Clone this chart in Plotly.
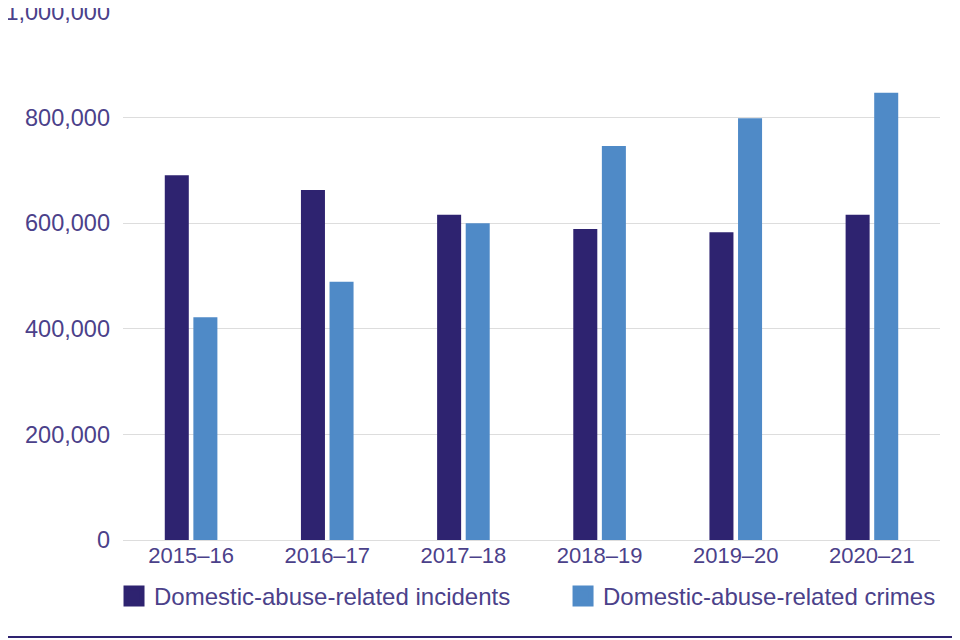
import plotly.graph_objects as go

years = ["2015–16", "2016–17", "2017–18", "2018–19", "2019–20", "2020–21"]
incidents = [691000, 663000, 616000, 589000, 583000, 616000]
crimes = [422000, 489000, 600000, 746000, 799000, 847000]
series_names = ["Domestic-abuse-related incidents", "Domestic-abuse-related crimes"]
y_ticks = [0, 200000, 400000, 600000, 800000, 1000000]
y_labels = ["0", "200,000", "400,000", "600,000", "800,000", "1,000,000"]

navy = "#2e2370"
blue = "#4f8ac7"
txt = "#4b418a"

fig = go.Figure()
fig.add_trace(go.Bar(x=years, y=incidents, name=series_names[0], showlegend=False,
                     marker=dict(color=navy, line=dict(width=0))))
fig.add_trace(go.Bar(x=years, y=crimes, name=series_names[1], showlegend=False,
                     marker=dict(color=blue, line=dict(width=0))))
for nm, col, lg in zip(series_names, [navy, blue], ["legend", "legend2"]):
    fig.add_trace(go.Scatter(x=[None], y=[None], mode="markers", name=nm, legend=lg,
                             marker=dict(symbol="square", size=22, color=col,
                                         line=dict(width=5, color=col))))

leg_common = dict(orientation="h", yanchor="middle", xanchor="left",
                  bgcolor="rgba(0,0,0,0)", font=dict(size=24, color=txt), itemwidth=30)

fig.update_layout(
    width=960, height=640,
    margin=dict(l=115, r=28, t=4, b=108, autoexpand=False),
    paper_bgcolor="white", plot_bgcolor="white",
    barmode="group", bargap=0.58, bargroupgap=0.16,
    font=dict(family="Liberation Sans, Arial, sans-serif", size=22, color=txt),
    showlegend=True,
    legend=dict(x=-0.011, y=-0.107, **leg_common),
    legend2=dict(x=0.5386, y=-0.107, **leg_common),
    xaxis=dict(showgrid=False, showline=False, ticks="", automargin=False,
               tickfont=dict(size=22, color=txt)),
    yaxis=dict(range=[0, 1000000], tickvals=y_ticks, ticktext=y_labels,
               automargin=False, ticklabeloverflow="allow",
               showgrid=True, gridcolor="#dddddd", gridwidth=1,
               zeroline=True, zerolinecolor="#dddddd", zerolinewidth=1,
               ticks="", ticklabelstandoff=12, tickfont=dict(size=23.5, color=txt)),
)
fig.add_shape(type="line", xref="paper", yref="paper", x0=-0.2, x1=1.1, y0=-0.1837, y1=-0.1837,
              line=dict(color=navy, width=2))
fig.write_html("out.html")
